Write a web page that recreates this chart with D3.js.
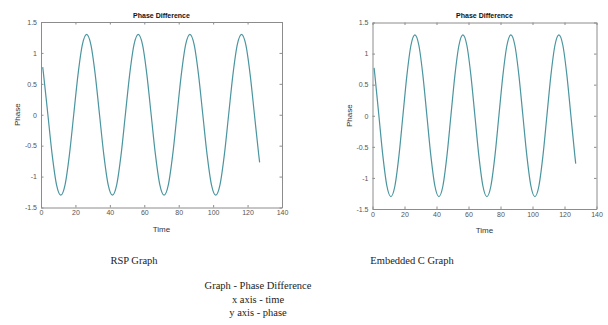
<!DOCTYPE html>
<html>
<head>
<meta charset="utf-8">
<script src="https://cdn.jsdelivr.net/npm/d3@7"></script>
<style>
  body { margin: 0; background: #fff; }
  svg { display: block; }
</style>
</head>
<body>
<div id="chart"></div>
<script>
//          Chart data
var timeValues = [1, 1.5, 4, 6.5, 9, 11.5, 14, 16.5, 19, 21.5, 24, 26.5, 29, 31.5, 34, 36.5, 39,
    41.5, 44, 46.5, 49, 51.5, 54, 56.5, 59, 61.5, 64, 66.5, 69, 71.5, 74, 76.5, 79, 81.5, 84,
    86.5, 89, 91.5, 94, 96.5, 99, 101.5, 104, 106.5, 109, 111.5, 114, 116.5, 119, 121.5, 124,
    126.5, 127];

var rspPhase = [0.77, 0.65, 0, -0.65, -1.13, -1.30, -1.13, -0.65, 0, 0.65, 1.13, 1.30, 1.13,
    0.65, 0, -0.65, -1.13, -1.30, -1.13, -0.65, 0, 0.65, 1.13, 1.30, 1.13, 0.65, 0, -0.65,
    -1.13, -1.30, -1.13, -0.65, 0, 0.65, 1.13, 1.30, 1.13, 0.65, 0, -0.65, -1.13, -1.30,
    -1.13, -0.65, 0, 0.65, 1.13, 1.30, 1.13, 0.65, 0, -0.65, -0.77];

var embeddedPhase = [0.77, 0.65, 0, -0.65, -1.13, -1.30, -1.13, -0.65, 0, 0.65, 1.13, 1.30, 1.13,
    0.65, 0, -0.65, -1.13, -1.30, -1.13, -0.65, 0, 0.65, 1.13, 1.30, 1.13, 0.65, 0, -0.65,
    -1.13, -1.30, -1.13, -0.65, 0, 0.65, 1.13, 1.30, 1.13, 0.65, 0, -0.65, -1.13, -1.30,
    -1.13, -0.65, 0, 0.65, 1.13, 1.30, 1.13, 0.65, 0, -0.65, -0.77];

var xTicks = [0, 20, 40, 60, 80, 100, 120, 140];
var yTicks = [-1.5, -1, -0.5, 0, 0.5, 1, 1.5];

var captions = ["RSP Graph", "Embedded C Graph"];
var noteLines = ["Graph - Phase Difference", "x axis - time", "y axis - phase"];

//          Chart settings
var W = 608, H = 325;
var lineColor = "#4a959f";
var boxColor = "#8c8c8c";
var tickColor = "#555";
var sansFont = "'Liberation Sans', Arial, sans-serif";
var serifFont = "'Liberation Serif', 'Times New Roman', serif";

var svg = d3.select("#chart").append("svg")
    .attr("width", W)
    .attr("height", H)
    .style("background", "#fff");

function drawPanel(box, values) {
    var x = d3.scaleLinear().domain([0, 140]).range([box.left, box.right]);
    var y = d3.scaleLinear().domain([-1.5, 1.5]).range([box.bottom, box.top]);
    var g = svg.append("g");

    var fmt = function(d) { return String(d); };

    // bottom axis with labels, ticks pointing in
    var bottom = g.append("g")
        .attr("transform", "translate(0," + box.bottom + ")")
        .call(d3.axisBottom(x).tickValues(xTicks).tickFormat(fmt)
            .tickSizeInner(-2.5).tickSizeOuter(0).tickPadding(3));
    var left = g.append("g")
        .attr("transform", "translate(" + box.left + ",0)")
        .call(d3.axisLeft(y).tickValues(yTicks).tickFormat(fmt)
            .tickSizeInner(-2.5).tickSizeOuter(0).tickPadding(4));
    // top and right: ticks only
    var top = g.append("g")
        .attr("transform", "translate(0," + box.top + ")")
        .call(d3.axisTop(x).tickValues(xTicks).tickFormat("")
            .tickSizeInner(-2.5).tickSizeOuter(0));
    var right = g.append("g")
        .attr("transform", "translate(" + box.right + ",0)")
        .call(d3.axisRight(y).tickValues(yTicks).tickFormat("")
            .tickSizeInner(-2.5).tickSizeOuter(0));

    [bottom, left, top, right].forEach(function(a) {
        a.select(".domain").attr("stroke", boxColor).attr("stroke-width", 1);
        a.selectAll(".tick line").attr("stroke", boxColor);
        a.selectAll("text")
            .attr("fill", tickColor)
            .style("font-family", sansFont)
            .style("font-size", "7px");
    });

    // curve
    var line = d3.line()
        .x(function(d, i) { return x(timeValues[i]); })
        .y(function(d) { return y(d); })
        .curve(d3.curveMonotoneX);

    g.append("path")
        .datum(values)
        .attr("d", line)
        .attr("fill", "none")
        .attr("stroke", lineColor)
        .attr("stroke-width", 1.2);

    var cx = (box.left + box.right) / 2;

    // title
    g.append("text")
        .text("Phase Difference")
        .attr("x", cx)
        .attr("y", box.top - 4.5)
        .attr("text-anchor", "middle")
        .style("font-family", sansFont)
        .style("font-weight", "bold")
        .style("font-size", "7px")
        .attr("fill", "#111");

    // axis labels
    g.append("text")
        .text("Time")
        .attr("x", cx)
        .attr("y", box.bottom + 24)
        .attr("text-anchor", "middle")
        .style("font-family", sansFont)
        .style("font-size", "8px")
        .attr("fill", "#333");

    g.append("text")
        .text("Phase")
        .attr("transform", "translate(" + (box.left - 21) + "," + ((box.top + box.bottom) / 2) + ") rotate(-90)")
        .attr("text-anchor", "middle")
        .style("font-family", sansFont)
        .style("font-size", "8px")
        .attr("fill", "#333");
}

drawPanel({left: 41, right: 282, top: 22, bottom: 207.5}, rspPhase);
drawPanel({left: 372.5, right: 596.5, top: 22.5, bottom: 209}, embeddedPhase);

//          Captions
svg.selectAll("text.caption").data(captions).enter().append("text")
    .attr("class", "caption")
    .text(function(d) { return d; })
    .attr("x", function(d, i) { return i === 0 ? 134 : 412; })
    .attr("y", 264)
    .attr("text-anchor", "middle")
    .style("font-family", serifFont)
    .style("font-size", "10.5px")
    .attr("fill", "#222");

svg.selectAll("text.note").data(noteLines).enter().append("text")
    .attr("class", "note")
    .text(function(d) { return d; })
    .attr("x", 258)
    .attr("y", function(d, i) { return 289 + i * 13.5; })
    .attr("text-anchor", "middle")
    .style("font-family", serifFont)
    .style("font-size", "10.5px")
    .attr("fill", "#222");
</script>
</body>
</html>
